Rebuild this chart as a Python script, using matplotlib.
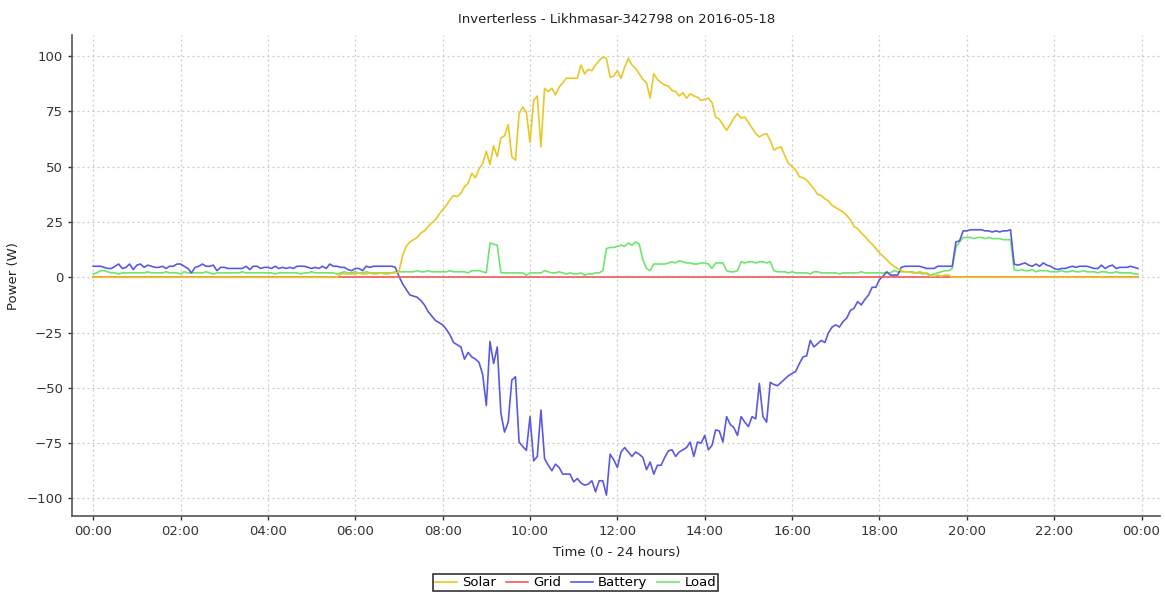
import numpy as np
import matplotlib
matplotlib.use('Agg')
import matplotlib.pyplot as plt
from matplotlib.ticker import FixedLocator


title = 'Inverterless - Likhmasar-342798 on 2016-05-18'

# one reading every 5 minutes, 00:00 .. 23:55 (one row = one hour)
minutes = np.arange(0, 1440, 5)

solar = [
    0, 0, 0, 0, 0, 0, 0, 0, 0, 0, 0, 0,
    0, 0, 0, 0, 0, 0, 0, 0, 0, 0, 0, 0,
    0, 0, 0, 0, 0, 0, 0, 0, 0, 0, 0, 0,
    0, 0, 0, 0, 0, 0, 0, 0, 0, 0, 0, 0,
    0, 0, 0, 0, 0, 0, 0, 0, 0, 0, 0, 0,
    0, 0, 0, 0, 0, 0, 0, 0, 1.5, 1.5, 1.5, 1.5,
    1.5, 2, 1.5, 1.5, 2, 1.5, 1.5, 2, 1.5, 1.5, 2, 2,
    2.5, 10, 14, 16, 17, 18, 20, 21, 23, 24.5, 26, 28.5,
    30.5, 32.5, 35, 37, 36.5, 38, 41, 42.5, 47, 45, 49, 51.5,
    57, 51, 59.5, 54.5, 63, 64, 69, 54.5, 53, 74, 77, 74.5,
    61, 80, 82, 59, 85.5, 84, 85.5, 82.5, 86, 88, 90, 90,
    90, 90, 96, 92, 94, 93.5, 96, 98, 99.7, 99, 90.5, 91,
    93.5, 90, 95, 99, 96, 94.5, 92, 89.5, 88, 81, 92, 89.5,
    88, 87, 86.5, 84.5, 84, 82, 83.5, 81, 83, 82, 81.5, 80,
    80.5, 81, 79, 72.5, 71.5, 69, 66.5, 69, 72, 74, 72, 72.5,
    70, 67.5, 65, 63.5, 64.5, 65, 62, 57.5, 58.5, 59, 55, 51.5,
    50, 48.5, 45.5, 45, 44, 42, 40, 37.5, 37, 35.5, 34.5, 32.5,
    31.5, 30.5, 29.5, 28, 26, 23, 22, 20, 18.5, 16.5, 15, 13,
    11, 9.5, 8, 6.2, 5, 4, 3, 2.5, 2.5, 2, 2, 2.5,
    2, 1.5, 0.5, 0.5, 1, 0.5, 1, 1, 0, 0, 0, 0,
    0, 0, 0, 0, 0, 0, 0, 0, 0, 0, 0, 0,
    0, 0, 0, 0, 0, 0, 0, 0, 0, 0, 0, 0,
    0, 0, 0, 0, 0, 0, 0, 0, 0, 0, 0, 0,
    0, 0, 0, 0, 0, 0, 0, 0, 0, 0, 0, 0,
]

grid = [
    0, 0, 0, 0, 0, 0, 0, 0, 0, 0, 0, 0,
    0, 0, 0, 0, 0, 0, 0, 0, 0, 0, 0, 0,
    0, 0, 0, 0, 0, 0, 0, 0, 0, 0, 0, 0,
    0, 0, 0, 0, 0, 0, 0, 0, 0, 0, 0, 0,
    0, 0, 0, 0, 0, 0, 0, 0, 0, 0, 0, 0,
    0, 0, 0, 0, 0, 0, 0, 0, 0, 0, 0, 0,
    0, 0, 0, 0, 0, 0, 0, 0, 0, 0, 0, 0,
    0, 0, 0, 0, 0, 0, 0, 0, 0, 0, 0, 0,
    0, 0, 0, 0, 0, 0, 0, 0, 0, 0, 0, 0,
    0, 0, 0, 0, 0, 0, 0, 0, 0, 0, 0, 0,
    0, 0, 0, 0, 0, 0, 0, 0, 0, 0, 0, 0,
    0, 0, 0, 0, 0, 0, 0, 0, 0, 0, 0, 0,
    0, 0, 0, 0, 0, 0, 0, 0, 0, 0, 0, 0,
    0, 0, 0, 0, 0, 0, 0, 0, 0, 0, 0, 0,
    0, 0, 0, 0, 0, 0, 0, 0, 0, 0, 0, 0,
    0, 0, 0, 0, 0, 0, 0, 0, 0, 0, 0, 0,
    0, 0, 0, 0, 0, 0, 0, 0, 0, 0, 0, 0,
    0, 0, 0, 0, 0, 0, 0, 0, 0, 0, 0, 0,
    0, 0, 0, 0, 0, 0, 0, 0, 0, 0, 0, 0,
    0, 0, 0, 0, 0, 0, 0, 0, 0, 0, 0, 0,
    0, 0, 0, 0, 0, 0, 0, 0, 0, 0, 0, 0,
    0, 0, 0, 0, 0, 0, 0, 0, 0, 0, 0, 0,
    0, 0, 0, 0, 0, 0, 0, 0, 0, 0, 0, 0,
    0, 0, 0, 0, 0, 0, 0, 0, 0, 0, 0, 0,
]

battery = [
    5, 5, 5, 4.5, 4, 4, 5, 6, 4, 4.5, 6, 3.5,
    5.5, 6, 4.5, 5.5, 5, 4.5, 4.5, 5, 4, 5, 5, 6,
    6, 5, 4, 2, 4.5, 5, 6, 5, 5, 5.5, 3, 4.5,
    4.5, 4, 4, 4, 4, 4, 5, 3.5, 5, 5, 4, 4.5,
    4.5, 4, 5, 4, 4.5, 4, 4.5, 4, 5, 5, 5, 4.5,
    4, 4.5, 4, 5, 4, 6, 5, 5, 4.5, 4.5, 3.5, 3,
    4, 4, 3, 5, 4.5, 5, 5, 5, 5, 5, 5, 4.5,
    0.5, -3, -5.5, -8, -8.5, -9, -10.5, -12.5, -15.5, -17.5, -19.5, -20.5,
    -21.5, -23.5, -26, -29.5, -30.5, -31.5, -37, -34, -36, -37, -38.5, -44,
    -58, -29, -39, -31.5, -61.5, -70, -65.5, -46.5, -45, -74.5, -76.5, -78.3,
    -63, -83, -81, -60, -82, -85, -87.5, -84.5, -86, -89, -89, -89,
    -92.5, -91, -93, -94, -93.5, -92, -97, -92, -92, -98.5, -80, -82.5,
    -86, -79, -77, -79, -81, -79, -80, -81.5, -87, -83.5, -89, -85,
    -85, -81.5, -78.5, -78, -81, -79, -78, -77, -74.5, -81, -74.5, -75,
    -71.5, -78, -76, -69, -69.5, -74.5, -63, -66.5, -68, -71.5, -63, -65.5,
    -67.5, -63, -64, -48, -63, -65.5, -47.5, -48.5, -49, -47.5, -46, -44.5,
    -43.5, -42.5, -39, -36, -35.5, -28.5, -31.5, -30, -28.5, -29.5, -25, -22.5,
    -21.5, -22.5, -20, -18.5, -15, -14, -11, -12.5, -10, -8, -4.5, -4.5,
    -1, 0.5, 2.5, 1, 1, 1, 4.5, 5, 5, 5, 5, 5,
    4.5, 4, 4, 4, 5, 5, 5, 5, 5, 16, 16.5, 21,
    21, 21.5, 21.5, 21.5, 21.5, 21, 21, 20.5, 21, 20.5, 21, 21,
    21.5, 6, 5.5, 6, 6.5, 5.5, 5, 6, 5, 6.5, 5.5, 5,
    4, 3.5, 4, 4, 4.5, 5, 4.5, 5, 5, 5, 4.5, 4,
    4, 5.5, 4, 5, 5.5, 4, 4.5, 4.5, 4.5, 5, 4.5, 4,
]

load = [
    1.5, 2, 3, 3, 2.5, 2, 2, 1.5, 2, 2, 2, 2,
    2, 2, 2, 2.5, 2, 2, 2, 2, 2.5, 2, 2, 2,
    1.5, 2.5, 2, 2, 2, 2, 2, 2.5, 2, 1.5, 2, 2,
    2, 2, 2, 2, 2, 2.5, 2, 2, 2, 2, 2, 2,
    2, 2, 1.5, 2, 2, 2, 2, 2, 2, 1.5, 2, 2,
    2.5, 2, 2, 2, 2, 2, 2, 1.5, 2, 2.5, 2, 2,
    2.5, 2, 2, 2.5, 2, 2, 2, 2, 2, 2, 2, 2.5,
    2.5, 2.5, 2.5, 2.5, 2.5, 3, 2.5, 2.5, 3, 2.5, 2.5, 2.5,
    2.5, 2.5, 3, 2.5, 2.5, 2.5, 2.5, 2, 3, 3, 3, 2.5,
    2, 15.5, 15, 14.5, 2, 2, 2, 2, 2, 2, 2, 1,
    2, 2, 2, 2, 3, 2.5, 2, 2, 2.5, 2, 1.5, 2,
    1.5, 1.5, 2, 1, 1.5, 1.5, 2, 2, 3, 13, 13.5, 13.5,
    14, 14.5, 14, 15.5, 14.5, 16, 15, 8, 4, 3, 6, 6,
    6, 6, 6.5, 7, 6.5, 7.5, 7, 6.5, 6.5, 6, 6, 6.5,
    6.5, 6, 4, 6.5, 6.5, 6.5, 3, 2.5, 2.5, 3, 7, 6.5,
    7, 7, 6.5, 7, 7, 6.5, 7, 3, 2.5, 2.5, 2.5, 2,
    2.5, 2, 2, 2, 2, 1.5, 2.5, 2.5, 2, 2, 2, 2,
    2, 1.5, 2, 2, 2, 2, 2, 2.5, 2, 2, 2, 2,
    2, 2, 2, 2, 3, 2.5, 2.5, 2.5, 2.5, 2.5, 2, 2,
    1.5, 2, 1, 1.5, 2, 2.5, 3, 3, 4, 13.5, 16, 18,
    18, 18, 17.5, 18, 18, 17.5, 18, 17.5, 17.5, 17.5, 17, 17,
    17, 3.5, 3, 3.5, 3, 3, 3.5, 2.5, 3, 3, 3, 2.5,
    2.5, 2.5, 3, 2.5, 2.5, 3, 2.5, 2.5, 3, 2.5, 2.5, 2.5,
    2, 2.5, 2.5, 2, 2, 2.5, 2, 2, 2, 2, 1.5, 1.5,
]

tick_hours = [0, 2, 4, 6, 8, 10, 12, 14, 16, 18, 20, 22, 24]
tick_labels = ['00:00', '02:00', '04:00', '06:00', '08:00', '10:00', '12:00',
               '14:00', '16:00', '18:00', '20:00', '22:00', '00:00']
y_ticks = [-100, -75, -50, -25, 0, 25, 50, 75, 100]

hours = minutes / 60.0

fig = plt.figure(figsize=(11.65, 5.96), dpi=100)
ax = fig.add_axes([0.062, 0.134, 0.934, 0.807])

# series 0 drawn last, like the original renderer
l_load, = ax.plot(hours, load, color='#6ee66e', lw=1.2, zorder=3)
l_bat, = ax.plot(hours, battery, color='#5a5ae0', lw=1.2, zorder=4)
l_grid, = ax.plot(hours, grid, color='#f05a5a', lw=1.2, zorder=5)
l_solar, = ax.plot(hours, solar, color='#e8c828', lw=1.2, zorder=6)

ax.set_xlim(-0.48, 24.43)
ax.set_ylim(-108, 109.5)
ax.xaxis.set_major_locator(FixedLocator(tick_hours))
ax.set_xticklabels(tick_labels)
ax.set_yticks(y_ticks)

ax.grid(True, color='#c8c8c8', linestyle=(0, (1.5, 2.5)), lw=0.9)
ax.set_axisbelow(True)

for s in ['top', 'right']:
    ax.spines[s].set_visible(False)
for s in ['left', 'bottom']:
    ax.spines[s].set_color('#555555')
    ax.spines[s].set_linewidth(1.2)
ax.tick_params(colors='#333333', labelsize=9.5, length=3, width=1, direction='out')

ax.set_title(title, fontsize=9.5, color='#222222', pad=9)
ax.set_xlabel('Time (0 - 24 hours)', fontsize=9.5, color='#222222', labelpad=6)
ax.set_ylabel('Power (W)', fontsize=9.5, color='#222222', labelpad=5)

leg = fig.legend([l_solar, l_grid, l_bat, l_load], ['Solar', 'Grid', 'Battery', 'Load'],
                 loc='center', bbox_to_anchor=(0.494, 0.022), ncol=4, frameon=True,
                 fancybox=False, fontsize=9.5, handlelength=1.7, handletextpad=0.4,
                 columnspacing=0.7, borderpad=0.15, borderaxespad=0)
leg.get_frame().set_edgecolor('black')
leg.get_frame().set_linewidth(1.2)

fig.savefig('out.png', dpi=100)
